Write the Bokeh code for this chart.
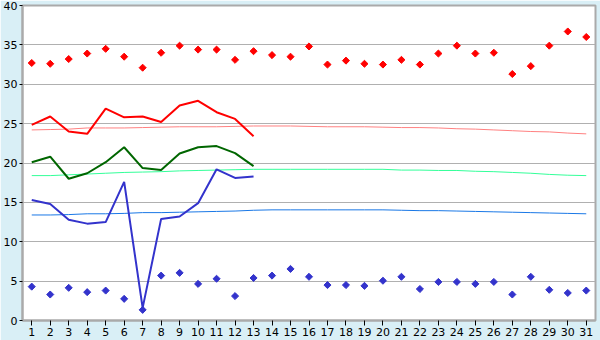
import numpy as np
from bokeh.plotting import figure
from bokeh.models import FixedTicker
from bokeh.embed import file_html
from bokeh.resources import INLINE

days = list(range(1, 32))

max_points = [32.7, 32.6, 33.2, 33.9, 34.5, 33.5, 32.1, 34.0, 34.9, 34.4,
              34.4, 33.1, 34.2, 33.7, 33.5, 34.8, 32.5, 33.0, 32.6, 32.5,
              33.1, 32.5, 33.9, 34.9, 33.9, 34.0, 31.3, 32.3, 34.9, 36.7, 36.0]
min_points = [4.3, 3.3, 4.15, 3.6, 3.8, 2.75, 1.35, 5.7, 6.05, 4.65,
              5.3, 3.1, 5.4, 5.7, 6.55, 5.55, 4.5, 4.5, 4.4, 5.05,
              5.55, 4.0, 4.9, 4.9, 4.65, 4.9, 3.3, 5.55, 3.9, 3.5, 3.8]

line_days = list(range(1, 14))
red_line = [24.85, 25.9, 24.0, 23.7, 26.9, 25.8, 25.9, 25.2, 27.3, 27.9, 26.45, 25.6, 23.4]
green_line = [20.1, 20.8, 18.0, 18.7, 20.1, 22.0, 19.35, 19.1, 21.2, 22.0, 22.15, 21.25, 19.6]
blue_line = [15.3, 14.8, 12.8, 12.3, 12.5, 17.6, 1.6, 12.9, 13.2, 14.9, 19.2, 18.1, 18.3]

pink_norm = [24.2, 24.25, 24.3, 24.45, 24.45, 24.45, 24.5, 24.55, 24.6, 24.6,
             24.6, 24.65, 24.7, 24.7, 24.7, 24.65, 24.6, 24.6, 24.6, 24.55,
             24.5, 24.5, 24.45, 24.35, 24.3, 24.2, 24.1, 24.0, 23.95, 23.8, 23.7]
green_norm = [18.4, 18.4, 18.5, 18.6, 18.7, 18.8, 18.85, 18.9, 19.0, 19.05,
              19.1, 19.15, 19.2, 19.2, 19.2, 19.2, 19.2, 19.2, 19.2, 19.2,
              19.1, 19.1, 19.05, 19.05, 18.95, 18.9, 18.8, 18.7, 18.55, 18.45, 18.4]
blue_norm = [13.4, 13.4, 13.45, 13.55, 13.55, 13.6, 13.7, 13.7, 13.75, 13.8,
             13.85, 13.9, 14.0, 14.05, 14.05, 14.05, 14.05, 14.05, 14.05, 14.05,
             14.0, 13.95, 13.95, 13.9, 13.85, 13.8, 13.75, 13.7, 13.65, 13.6, 13.55]

y_ticks = [0, 5, 10, 15, 20, 25, 30, 35, 40]

p = figure(width=600, height=340, x_range=(0.5, 31.5), y_range=(0, 40),
           output_backend="svg", toolbar_location=None,
           min_border_left=20, min_border_right=5, min_border_top=5, min_border_bottom=20)

p.background_fill_color = "white"
p.border_fill_color = "#d9eff6"
p.outline_line_color = "#aaaaaa"
p.outline_line_width = 2

p.xgrid.grid_line_color = None
p.ygrid.grid_line_color = "#b0b0b0"
p.ygrid.grid_line_width = 1
p.ygrid.ticker = FixedTicker(ticks=y_ticks)

p.xaxis.ticker = FixedTicker(ticks=days)
p.yaxis.ticker = FixedTicker(ticks=y_ticks)
for ax in (p.xaxis[0], p.yaxis[0]):
    ax.axis_line_color = "#aaaaaa"
    ax.axis_line_width = 2
    ax.major_tick_line_color = "black"
    ax.major_tick_in = 0
    ax.minor_tick_line_color = None
    ax.major_label_text_font = "DejaVu Sans"
    ax.major_label_text_font_size = "11px"
    ax.major_label_text_color = "black"
    ax.major_label_standoff = 2
p.xaxis.major_tick_out = 5
p.yaxis.major_tick_out = 3

# normals
p.line(days, pink_norm, line_color="#ff8080", line_width=1)
p.line(days, green_norm, line_color="#33ff99", line_width=1)
p.line(days, blue_norm, line_color="#1a78e6", line_width=1)

# current lines
p.line(line_days, red_line, line_color="#ff0000", line_width=2)
p.line(line_days, green_line, line_color="#006600", line_width=2)
p.line(line_days, blue_line, line_color="#3333cc", line_width=2)

# points
p.scatter(days, max_points, marker="square", size=5, angle=np.pi / 4,
          fill_color="#ff0000", line_color="#ff0000")
p.scatter(days, min_points, marker="square", size=5, angle=np.pi / 4,
          fill_color="#3333cc", line_color="#3333cc")

open("out.html", "w").write(file_html(p, INLINE))
